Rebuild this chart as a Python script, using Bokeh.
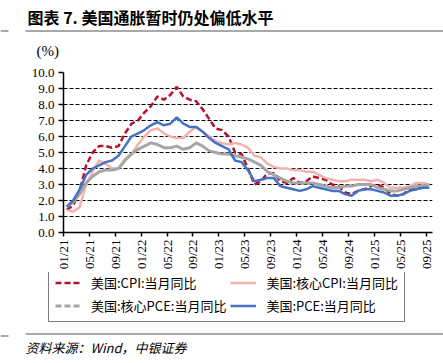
import math
from bokeh.plotting import figure
from bokeh.models import (FixedTicker, Legend, LegendItem, Label, Range1d,
                          PrintfTickFormatter)
from bokeh.embed import file_html
from bokeh.resources import INLINE

# ---------------- data (monthly, Jan 2021 - Sep 2025) ----------------
tick_labels = ["01/21", "05/21", "09/21", "01/22", "05/22", "09/22", "01/23",
               "05/23", "09/23", "01/24", "05/24", "09/24", "01/25", "05/25", "09/25"]

cpi = [1.4, 1.7, 2.6, 4.2, 5.0, 5.4, 5.4, 5.3, 5.4, 6.2, 6.8, 7.0,
       7.5, 7.9, 8.5, 8.3, 8.6, 9.1, 8.5, 8.3, 8.2, 7.7, 7.1, 6.5,
       6.4, 6.0, 5.0, 4.9, 4.0, 3.0, 3.2, 3.7, 3.7, 3.2, 3.1, 3.4,
       3.1, 3.2, 3.5, 3.4, 3.3, 3.0, 2.9, 2.5, 2.4, 2.6, 2.7, 2.9,
       3.0, 2.8, 2.4, 2.3, 2.4, 2.7, 2.7, 2.9, 3.0]

core_cpi = [1.4, 1.3, 1.6, 3.0, 3.8, 4.5, 4.3, 4.0, 4.0, 4.6, 4.9, 5.5,
            6.0, 6.4, 6.5, 6.2, 6.0, 5.9, 5.9, 6.3, 6.6, 6.3, 6.0, 5.7,
            5.6, 5.5, 5.6, 5.5, 5.3, 4.8, 4.7, 4.3, 4.1, 4.0, 4.0, 3.9,
            3.9, 3.8, 3.8, 3.6, 3.4, 3.3, 3.2, 3.2, 3.3, 3.3, 3.3, 3.2,
            3.3, 3.1, 2.8, 2.8, 2.8, 2.9, 3.1, 3.1, 3.0]

core_pce = [1.6, 1.9, 2.4, 3.1, 3.5, 3.8, 3.9, 3.9, 4.0, 4.5, 4.9, 5.2,
            5.4, 5.6, 5.5, 5.3, 5.3, 5.4, 5.2, 5.3, 5.6, 5.4, 5.1, 5.0,
            4.9, 4.9, 4.8, 4.7, 4.6, 4.4, 4.2, 3.8, 3.6, 3.4, 3.2, 3.1,
            3.1, 3.1, 3.1, 3.0, 2.9, 2.8, 2.8, 2.9, 2.9, 3.0, 3.0, 3.0,
            2.8, 2.7, 2.6, 2.6, 2.7, 2.8, 2.9, 2.9, 3.0]

pce = [1.6, 2.0, 2.7, 3.6, 4.0, 4.2, 4.4, 4.5, 4.8, 5.4, 6.0, 6.2,
       6.4, 6.7, 6.9, 6.7, 6.8, 7.2, 6.8, 6.6, 6.6, 6.3, 5.9, 5.6,
       5.4, 5.2, 4.5, 4.4, 3.9, 3.2, 3.3, 3.4, 3.4, 2.9, 2.8, 2.7,
       2.6, 2.7, 2.9, 2.8, 2.7, 2.6, 2.6, 2.4, 2.3, 2.6, 2.7, 2.7,
       2.6, 2.5, 2.3, 2.3, 2.4, 2.6, 2.7, 2.8, 2.8]

series_names = ["美国:CPI:当月同比", "美国:核心CPI:当月同比",
                "美国:核心PCE:当月同比", "美国:PCE:当月同比"]

title_text = "图表 7. 美国通胀暂时仍处偏低水平"
source_text = "资料来源：Wind，中银证券"
unit_text = "(%)"

# ---------------- styling ----------------
RED = "#B3122E"
PINK = "#F2B2AE"
GREY = "#A6A6A6"
BLUE = "#4472C4"
SERIF = "Liberation Serif"
CJK = "Noto Sans CJK SC"
RULE = "#8C8C8C"

W = 443
n = len(cpi)
xs = [i + 0.5 for i in range(n)]
tick_pos = [4 * i for i in range(len(tick_labels))]


def strip(h):
    """A figure whose frame is the whole canvas, in pixel coordinates (y down)."""
    f = figure(width=W, height=h, output_backend="svg", toolbar_location=None,
               x_range=Range1d(0, W), y_range=Range1d(h, 0),
               x_axis_type=None, y_axis_type=None, min_border=0, margin=0)
    f.outline_line_color = None
    f.background_fill_color = "white"
    f.border_fill_color = "white"
    return f


def rules(f, y_main, y_stub):
    f.segment(x0=[25], y0=[y_main], x1=[W], y1=[y_main],
              line_color=RULE, line_width=1.5)
    f.segment(x0=[0], y0=[y_stub], x1=[8], y1=[y_stub],
              line_color=RULE, line_width=1.5)


# ---------------- header: title, rule, unit ----------------
header = strip(64)
header.add_layout(Label(x=27, y=16, text=title_text, text_font=CJK,
                        text_font_size="16px", text_font_style="bold",
                        text_color="black", text_baseline="middle"))
rules(header, 30.5, 30.5)
header.add_layout(Label(x=36, y=50, text=unit_text, text_font=SERIF,
                        text_font_size="15px", text_color="black",
                        text_baseline="middle"))

# ---------------- main chart ----------------
p = figure(width=W, height=208, output_backend="svg", toolbar_location=None,
           x_range=(0, 57), y_range=(0, 10),
           min_border_left=63, min_border_right=11, min_border_top=8,
           min_border_bottom=40, margin=0)
p.outline_line_color = None
p.background_fill_color = "white"
p.border_fill_color = "white"

p.xgrid.grid_line_color = None
p.ygrid.grid_line_color = "black"
p.ygrid.grid_line_dash = "4 2"
p.ygrid.grid_line_width = 1

p.yaxis.ticker = FixedTicker(ticks=list(range(0, 11)))
p.yaxis.formatter = PrintfTickFormatter(format="%.1f")
p.yaxis.major_label_text_font = SERIF
p.yaxis.major_label_text_font_size = "13px"
p.yaxis.major_label_text_color = "black"
p.yaxis.major_tick_out = 5
p.yaxis.major_tick_in = 0
p.yaxis.minor_tick_line_color = None
p.yaxis.major_label_standoff = 4

p.xaxis.ticker = FixedTicker(ticks=tick_pos)
p.xaxis.major_label_overrides = {t: lab for t, lab in zip(tick_pos, tick_labels)}
p.xaxis.major_label_orientation = math.pi / 2
p.xaxis.major_label_text_font = SERIF
p.xaxis.major_label_text_font_size = "13px"
p.xaxis.major_label_text_color = "black"
p.xaxis.major_tick_out = 4
p.xaxis.major_tick_in = 0
p.xaxis.minor_tick_line_color = None
p.xaxis.major_label_standoff = 3

for ax in (p.xaxis, p.yaxis):
    ax.axis_line_color = "black"
    ax.axis_line_width = 1.5
    ax.major_tick_line_color = "black"
    ax.major_tick_line_width = 1.5

styles = [
    dict(line_color=RED, line_width=2.5, line_dash="6 3"),
    dict(line_color=PINK, line_width=2.5),
    dict(line_color=GREY, line_width=3),
    dict(line_color=BLUE, line_width=2.5),
]
for ys, st in zip([cpi, core_cpi, core_pce, pce], styles):
    p.line(xs, ys, **st)

# ---------------- legend strip (legend samples use the same styles) ----------------
lg = strip(58)
legend_styles = [
    dict(line_color=RED, line_width=2.5, line_dash="6 3"),
    dict(line_color=PINK, line_width=2.5),
    dict(line_color=GREY, line_width=3, line_dash="6 3"),
    dict(line_color=BLUE, line_width=2.5),
]
items = []
for name, st in zip(series_names, legend_styles):
    r = lg.line([math.nan], [math.nan], **st)
    items.append(LegendItem(label=name, renderers=[r]))

legend = Legend(items=items, location=(48, 8), orientation="horizontal", ncols=2)
legend.border_line_color = "black"
legend.border_line_width = 1.5
legend.background_fill_color = "white"
legend.background_fill_alpha = 1
legend.padding = 6
legend.margin = 0
legend.spacing = 4
legend.glyph_width = 26
legend.glyph_height = 15
legend.label_height = 15
legend.label_standoff = 10
legend.label_text_font = CJK
legend.label_text_font_size = "13px"
legend.label_text_color = "black"
legend.label_text_baseline = "middle"
lg.add_layout(legend, "center")

# ---------------- footer: rule and source ----------------
footer = strip(33)
rules(footer, 3.5, 5.5)
footer.add_layout(Label(x=25, y=17, text=source_text, text_font=CJK,
                        text_font_size="13px", text_font_style="italic",
                        text_color="black", text_baseline="middle"))

open("out.html", "w").write(file_html([header, p, lg, footer], INLINE))
